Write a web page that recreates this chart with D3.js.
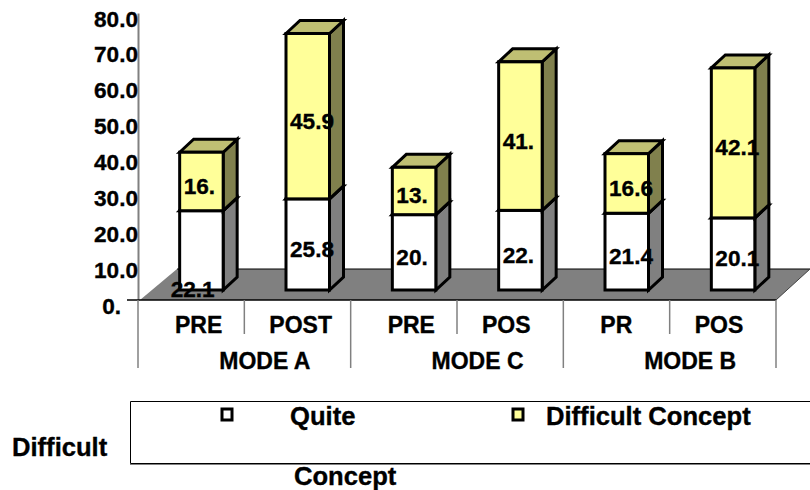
<!DOCTYPE html>
<html>
<head>
<meta charset="utf-8">
<script src="https://cdn.jsdelivr.net/npm/d3@7"></script>
<style>
  html, body { margin: 0; padding: 0; background: #fff; }
  text { font-family: "Liberation Sans", Arial, sans-serif; font-weight: bold; fill: #000; stroke: #000; stroke-width: 0.35px; }
</style>
</head>
<body>
<div id="chart"></div>
<script>
const categories = ['PRE', 'POST', 'PRE', 'POS', 'PR', 'POS']
const groups = ['MODE A', 'MODE C', 'MODE B']
const quite = [22.1, 25.4, 21, 22.2, 21.4, 20.1]
const difficult = [16.3, 46.1, 13.2, 41.4, 16.6, 41.8]
const quiteLabels = ['22.1', '25.8', '20.', '22.', '21.4', '20.1']
const difficultLabels = ['16.', '45.9', '13.', '41.', '16.6', '42.1']
const yTicks = [0, 10, 20, 30, 40, 50, 60, 70, 80]
const yTickLabels = ['0.', '10.0', '20.0', '30.0', '40.0', '50.0', '60.0', '70.0', '80.0']

const width = 810
const height = 490
const depthX = 14
const depthY = 13

const colors = {
  white: { front: '#ffffff', side: '#808080', top: '#bfbfbf' },
  yellow: { front: '#ffff99', side: '#80804d', top: '#bfbf73' }
}

const svg = d3.select('#chart').append('svg')
  .attr('width', width)
  .attr('height', height)
  .style('display', 'block')

const x = d3.scaleBand().domain(d3.range(categories.length)).range([138, 776])
const y = d3.scaleLinear().domain([0, 80]).range([300, 13])

// floor of the 3d box
const floorBack = 269
svg.append('path')
  .attr('d', `M140,${y(0)}L776,${y(0)}L810,${floorBack}L177,${floorBack}Z`)
  .attr('fill', '#808080')
  .attr('stroke', 'none')
svg.append('line')
  .attr('x1', 177).attr('x2', 810).attr('y1', floorBack).attr('y2', floorBack)
  .attr('stroke', '#000').attr('stroke-width', 1)
svg.append('line')
  .attr('x1', 776).attr('x2', 810).attr('y1', y(0)).attr('y2', floorBack)
  .attr('stroke', '#404040').attr('stroke-width', 1)

// y axis
const yAxis = d3.axisLeft(y)
  .tickValues(yTicks)
  .tickSize(0)
  .tickPadding(0)
  .tickFormat((d, i) => yTickLabels[i])
const yAxisg = svg.append('g').attr('transform', 'translate(138, 0)').call(yAxis)
yAxisg.select('.domain').attr('stroke', '#808080').attr('stroke-width', 2)
yAxisg.selectAll('text')
  .attr('dy', '0.58em')
  .style('font-size', '22.6px')
  .filter(d => d === 0)
  .attr('x', -17)

// category axis lines
svg.append('line')
  .attr('x1', 127).attr('x2', 776).attr('y1', y(0)).attr('y2', y(0))
  .attr('stroke', '#000').attr('stroke-width', 1.5)

const edges = d3.range(categories.length + 1)
svg.append('g').selectAll('line').data(edges).enter()
  .append('line')
  .attr('x1', d => x.range()[0] + d * x.step())
  .attr('x2', d => x.range()[0] + d * x.step())
  .attr('y1', y(0))
  .attr('y2', d => d % 2 === 0 ? 368 : 334)
  .attr('stroke', '#808080')
  .attr('stroke-width', 1.5)

svg.append('g').selectAll('text').data(categories).enter()
  .append('text')
  .attr('x', (d, i) => x(i) + (d.startsWith('PR') ? 37 : 25))
  .attr('y', 333)
  .style('font-size', '23px')
  .text(d => d)

svg.append('g').selectAll('text').data(groups).enter()
  .append('text')
  .attr('x', (d, i) => x(i * 2) + x.step() + 20.5)
  .attr('y', 369)
  .attr('text-anchor', 'middle')
  .style('font-size', '23px')
  .text(d => d)

// bars, front faces sit on the floor
const barLeft = i => x(i) + x.step() / 2 - 11.5
const barRight = i => barLeft(i) + 43.5
const floorShift = -10
const py = v => y(v) + floorShift

function drawSegment(i, v0, v1, c) {
  const l = barLeft(i)
  const r = barRight(i)
  const t = py(v1)
  const b = py(v0)
  const g = svg.append('g')
    .attr('stroke', '#000')
    .attr('stroke-width', 3)
    .attr('stroke-linejoin', 'miter')
  g.append('path')
    .attr('d', `M${r},${t}L${r + depthX},${t - depthY}L${r + depthX},${b - depthY}L${r},${b}Z`)
    .attr('fill', c.side)
  g.append('path')
    .attr('d', `M${l},${t}L${l + depthX},${t - depthY}L${r + depthX},${t - depthY}L${r},${t}Z`)
    .attr('fill', c.top)
  g.append('rect')
    .attr('x', l)
    .attr('y', t)
    .attr('width', r - l)
    .attr('height', b - t)
    .attr('fill', c.front)
}

categories.forEach((d, i) => {
  drawSegment(i, 0, quite[i], colors.white)
  drawSegment(i, quite[i], quite[i] + difficult[i], colors.yellow)
})

// value labels, the first one is pushed down and left in the original
const labelg = svg.append('g').style('font-size', '22.6px')
categories.forEach((d, i) => {
  labelg.append('text')
    .attr('x', i === 0 ? barLeft(i) - 9 : barLeft(i) + 4)
    .attr('y', i === 0 ? 297 : py(quite[i] / 2) + 12.5)
    .text(quiteLabels[i])
  labelg.append('text')
    .attr('x', barLeft(i) + 4)
    .attr('y', py(quite[i] + difficult[i] / 2) + 12.5)
    .text(difficultLabels[i])
})

// legend
svg.append('path')
  .attr('d', 'M810,401.5L130.5,401.5L130.5,463.5L810,463.5')
  .attr('fill', 'none')
  .attr('stroke', '#000')
  .attr('stroke-width', 1)
svg.append('line')
  .attr('x1', 130).attr('x2', 810).attr('y1', 464.5).attr('y2', 464.5)
  .attr('stroke', '#808080')

const legendg = svg.append('g')
legendg.append('rect')
  .attr('x', 222).attr('y', 409).attr('width', 10).attr('height', 11)
  .attr('fill', colors.white.front).attr('stroke', '#000').attr('stroke-width', 3)
legendg.append('rect')
  .attr('x', 513).attr('y', 409).attr('width', 10).attr('height', 11)
  .attr('fill', colors.yellow.front).attr('stroke', '#000').attr('stroke-width', 3)

const legendText = legendg.append('g').style('font-size', '25.6px')
legendText.append('text').attr('x', 290).attr('y', 425).text('Quite')
legendText.append('text').attr('x', 546).attr('y', 425).text('Difficult Concept')
legendText.append('text').attr('x', 12).attr('y', 456).text('Difficult')
legendText.append('text').attr('x', 294).attr('y', 485).text('Concept')
</script>
</body>
</html>
